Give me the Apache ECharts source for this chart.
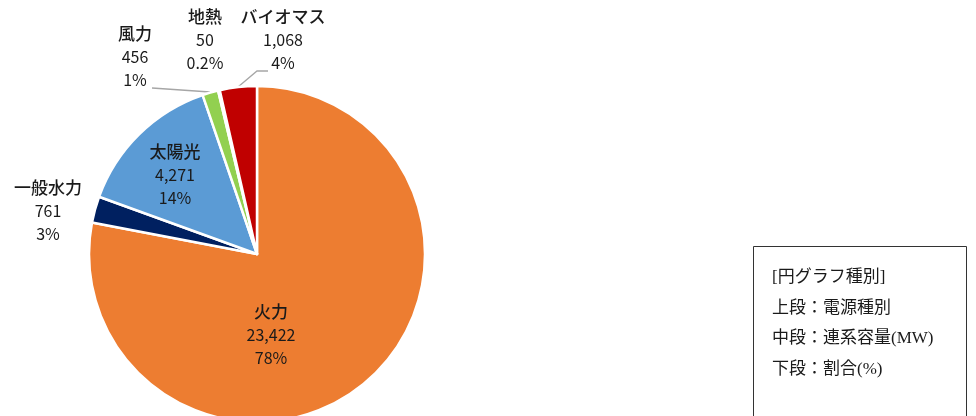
<!DOCTYPE html>
<html>
<head>
<meta charset="utf-8">
<script src="https://cdn.jsdelivr.net/npm/echarts@6/dist/echarts.min.js"></script>
<style>html,body{margin:0;padding:0;background:#fff;}#c{width:976px;height:416px;}</style>
</head>
<body>
<div id="c"></div>
<script>
const categories = ['火力', '一般水力', '太陽光', '風力', '地熱', 'バイオマス'];
const capacities = [23422, 761, 4271, 456, 50, 1068];
const percentLabels = ['78%', '3%', '14%', '1%', '0.2%', '4%'];
const colors = ['#ED7D31', '#002060', '#5B9BD5', '#92D050', '#FFC000', '#C00000'];
const noteLines = ['[円グラフ種別]', '上段：電源種別', '中段：連系容量(MW)', '下段：割合(%)'];

// label placement (layout only)
const labelPos = [
  {x: 271, y: 335},
  {x: 48, y: 211},
  {x: 175, y: 175},
  {x: 135, y: 57},
  {x: 205, y: 40},
  {x: 283, y: 40}
];
const linePts = {
  3: [[210, 92], [181, 90], [152, 88]],
  5: [[238, 87], [257, 71], [268, 71]]
};

const chart = echarts.init(document.getElementById('c'), null, {renderer: 'canvas'});
const data = categories.map((n, i) => ({
  name: n,
  value: capacities[i],
  itemStyle: {color: colors[i]},
  labelLine: {show: !!linePts[i]}
}));

chart.setOption({
  animation: false,
  series: [{
    type: 'pie',
    center: [257, 254],
    radius: 168,
    startAngle: 90,
    clockwise: true,
    avoidLabelOverlap: false,
    itemStyle: {borderColor: '#fff', borderWidth: 2.5},
    label: {
      show: true,
      position: 'outside',
      color: '#1a1a1a',
      fontSize: 16,
      lineHeight: 23,
      fontFamily: 'Noto Sans CJK JP, sans-serif',
      align: 'center',
      formatter: p => '{n|' + p.name + '}\n' + p.value.toLocaleString('en-US') + '\n' + percentLabels[p.dataIndex],
      rich: {
        n: {fontSize: 17, fontWeight: 500, lineHeight: 23, color: '#1a1a1a', fontFamily: 'Noto Sans CJK JP, sans-serif'}
      }
    },
    labelLine: {lineStyle: {color: '#a6a6a6', width: 1.3}},
    labelLayout: function (params) {
      const i = params.dataIndex;
      const r = {x: labelPos[i].x, y: labelPos[i].y, align: 'center', verticalAlign: 'middle'};
      if (linePts[i]) r.labelLinePoints = linePts[i];
      return r;
    },
    data: data
  }],
  graphic: [
    {type: 'rect', shape: {x: 753.5, y: 246.5, width: 213, height: 200}, style: {fill: '#fff', stroke: '#333', lineWidth: 1}},
    ...noteLines.map((t, i) => ({
      type: 'text', left: 772, top: 269 + i * 30.7,
      style: {text: t, fill: '#1a1a1a', font: '17px "Liberation Serif", "Noto Sans CJK JP", serif'}
    }))
  ]
});
</script>
</body>
</html>
